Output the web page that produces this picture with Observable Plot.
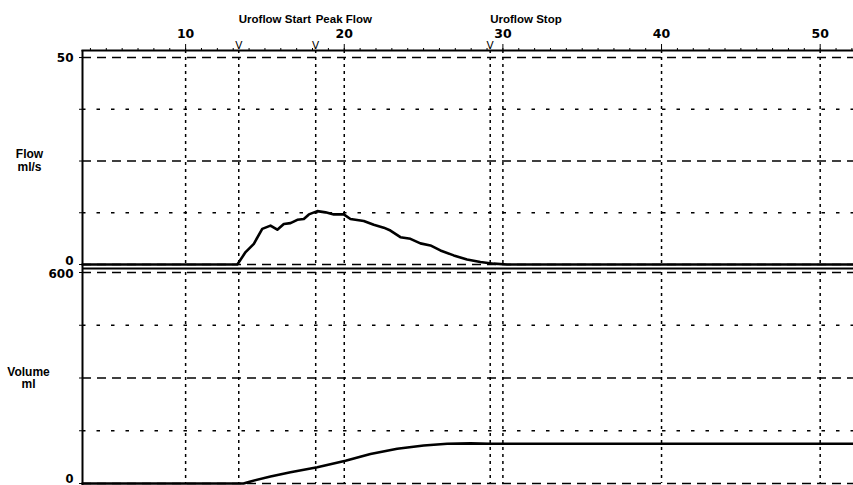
<!DOCTYPE html>
<html>
<head>
<meta charset="utf-8">
<script src="https://cdn.jsdelivr.net/npm/d3@7"></script>
<script src="https://cdn.jsdelivr.net/npm/@observablehq/plot@0.6"></script>
<style>
  html, body { margin: 0; padding: 0; background: #fff; }
  #chart { position: relative; width: 853px; height: 485px; overflow: hidden; background: #fff; }
  #chart svg { position: absolute; left: 0; overflow: visible; }
</style>
</head>
<body>
<div id="chart"></div>
<script>
// ---- data ----
const flowTime = [3.5, 13.26, 13.78, 14.30, 14.83, 15.35, 15.78, 16.19, 16.61, 17.04, 17.45, 17.77, 18.30, 18.82, 19.34, 19.97, 20.39, 21.23, 21.86, 22.49, 22.91, 23.54, 24.17, 24.80, 25.43, 26.06, 26.90, 27.74, 28.58, 29.42, 30.26, 52.1];
const flowRate = [0, 0, 3.0, 5.0, 8.6, 9.4, 8.4, 9.8, 10.0, 10.8, 11.0, 12.1, 12.9, 12.6, 12.1, 12.1, 11.0, 10.5, 9.6, 8.9, 8.2, 6.6, 6.2, 5.1, 4.6, 3.4, 2.2, 1.2, 0.6, 0.2, 0, 0];

const volTime = [3.5, 13.65, 14.09, 15.35, 16.61, 18.30, 20.08, 21.65, 23.34, 25.01, 26.49, 27.95, 29.2, 35, 45, 52.1];
const volume  = [0, 0, 6, 20, 32, 46, 65, 84, 99, 108, 113, 114, 113, 113, 113, 113];

const eventTime  = [13.35, 18.2, 29.2];
const eventLabel = ["Uroflow Start", "Peak Flow", "Uroflow Stop"];

const xMajorTicks = [10, 20, 30, 40, 50];
const xMinorTicks = d3.range(4, 53);
const flowDashTicks = [0, 25, 50];
const flowDotTicks = [12.5, 37.5];
const volDashTicks = [0, 300, 600];
const volDotTicks = [150, 450];

const flowData = flowTime.map((t, i) => ({t, v: flowRate[i]}));
const volData = volTime.map((t, i) => ({t, v: volume[i]}));
const events = eventTime.map((t, i) => ({t, label: eventLabel[i]}));

const xDomain = [3.5, 52.1];
const numFont = "DejaVu Sans";
const txtFont = "Liberation Sans, Arial, sans-serif";
const dashLong = "9,6";
const dashShort = "3.5,11";
const dashVert = "3,4";
const gridW = 1.4;

// ---- top panel: flow ----
const flowPlot = Plot.plot({
  width: 853, height: 266,
  marginTop: 50, marginLeft: 82, marginRight: 0, marginBottom: 2,
  x: {domain: xDomain, axis: null},
  y: {domain: [0, 51.7], axis: null},
  style: {fontFamily: txtFont, fontWeight: "bold", background: "transparent", color: "#000", overflow: "visible"},
  marks: [
    Plot.ruleY(flowDashTicks, {strokeDasharray: dashLong, strokeWidth: gridW}),
    Plot.ruleY(flowDotTicks, {strokeDasharray: dashShort, strokeWidth: gridW}),
    Plot.ruleX([...xMajorTicks, ...eventTime], {strokeDasharray: dashVert, strokeWidth: 1.5}),
    Plot.frame({anchor: "top", strokeWidth: 2}),
    Plot.ruleX([xDomain[0]], {strokeWidth: 2, insetBottom: -2}),
    Plot.axisX({anchor: "top", ticks: xMinorTicks, tickSize: 3, text: null, label: null}),
    Plot.axisX({anchor: "top", ticks: xMajorTicks, tickSize: 7, tickPadding: 6, label: null, fontFamily: numFont, fontSize: 12.5, fontWeight: "bold", tickFormat: d => String(d)}),
    Plot.axisY({anchor: "left", ticks: [...flowDashTicks, ...flowDotTicks], tickSize: 3, text: null, label: null}),
    Plot.text([50], {y: d => d, frameAnchor: "left", dx: -9, dy: 1, textAnchor: "end", text: d => String(d), fontFamily: numFont, fontSize: 12, fontWeight: "bold"}),
    Plot.text([0], {y: d => d, frameAnchor: "left", dx: -9, dy: -3, textAnchor: "end", text: d => String(d), fontFamily: numFont, fontSize: 12, fontWeight: "bold"}),
    Plot.text(events, {x: "t", text: () => "V", frameAnchor: "top", dy: -2, lineAnchor: "bottom", fontSize: 10.5, fontWeight: "normal", fontFamily: "DejaVu Sans"}),
    Plot.text(events, {x: "t", text: "label", frameAnchor: "top", dy: -28, lineAnchor: "bottom", textAnchor: "start", dx: 0, fontSize: 11.5, fontWeight: "bold"}),
    Plot.text(["Flow\nml/s"], {frameAnchor: "left", dx: -53, dy: 3, text: d => d, textAnchor: "middle", fontSize: 12, fontWeight: "bold", lineHeight: 1.1}),
    Plot.line(flowData, {x: "t", y: "v", strokeWidth: 2.6})
  ]
});
flowPlot.style.top = "0px";

// ---- bottom panel: volume ----
const volPlot = Plot.plot({
  width: 853, height: 219,
  marginTop: 6, marginLeft: 82, marginRight: 0, marginBottom: 2,
  x: {domain: xDomain, axis: null},
  y: {domain: [0, 600], axis: null},
  style: {fontFamily: txtFont, fontWeight: "bold", background: "transparent", color: "#000", overflow: "visible"},
  marks: [
    Plot.ruleY(volDashTicks, {strokeDasharray: dashLong, strokeWidth: gridW}),
    Plot.ruleY(volDotTicks, {strokeDasharray: dashShort, strokeWidth: gridW}),
    Plot.ruleX([...xMajorTicks, ...eventTime], {strokeDasharray: dashVert, strokeWidth: 1.5}),
    Plot.ruleY([600], {dy: -4, strokeWidth: 2}),
    Plot.ruleX([xDomain[0]], {strokeWidth: 2, insetTop: -6, insetBottom: -2}),
    Plot.axisY({anchor: "left", ticks: [...volDashTicks, ...volDotTicks], tickSize: 3, text: null, label: null}),
    Plot.text([600], {y: d => d, frameAnchor: "left", dx: -9, dy: 2, textAnchor: "end", text: d => String(d), fontFamily: numFont, fontSize: 12, fontWeight: "bold"}),
    Plot.text([0], {y: d => d, frameAnchor: "left", dx: -9, dy: -4, textAnchor: "end", text: d => String(d), fontFamily: numFont, fontSize: 11.5, fontWeight: "bold"}),
    Plot.text(["Volume\nml"], {frameAnchor: "left", dx: -54, dy: 0, text: d => d, textAnchor: "middle", fontSize: 12, fontWeight: "bold", lineHeight: 1.05}),
    Plot.line(volData, {x: "t", y: "v", strokeWidth: 2.6})
  ]
});
volPlot.style.top = "266px";

const chart = document.getElementById("chart");
chart.appendChild(flowPlot);
chart.appendChild(volPlot);
</script>
</body>
</html>
